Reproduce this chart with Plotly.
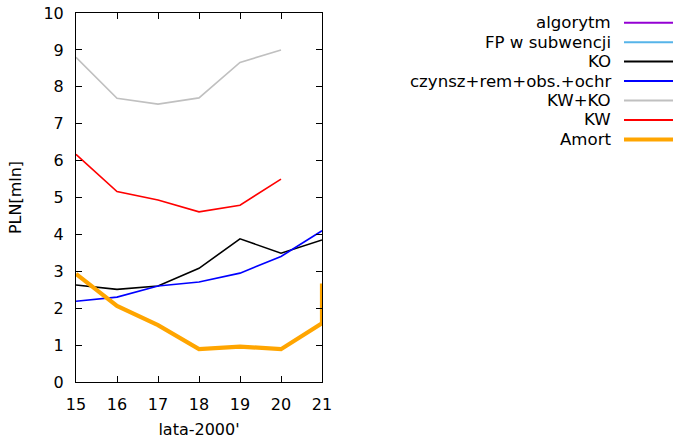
import plotly.graph_objects as go

years = [15, 16, 17, 18, 19, 20, 21]
kwko = [8.80, 7.69, 7.53, 7.70, 8.66, 9.00]
kw = [6.17, 5.16, 4.93, 4.61, 4.79, 5.50]
ko = [2.63, 2.51, 2.60, 3.08, 3.88, 3.49, 3.85]
czynsz = [2.19, 2.30, 2.60, 2.71, 2.95, 3.40, 4.10]
amort_x = [15, 16, 17, 18, 19, 20, 21, 21]
amort = [2.93, 2.06, 1.54, 0.89, 0.96, 0.89, 1.59, 2.67]
algorytm = []
fp_subw = []

legend_names = ["algorytm", "FP w subwencji", "KO", "czynsz+rem+obs.+ochr", "KW+KO", "KW", "Amort"]
legend_colors = ["#9400d3", "#56b4e9", "#000000", "#0000ff", "#c0c0c0", "#ff0000", "#ffa500"]
legend_widths = [2, 2, 2, 2, 2, 2, 4]

FONT = "DejaVu Sans"
FS = 16
fig = go.Figure()
series = [
    (years[:0], algorytm, 0),
    (years[:0], fp_subw, 1),
    (years, ko, 2),
    (years, czynsz, 3),
    (years[:6], kwko, 4),
    (years[:6], kw, 5),
    (amort_x, amort, 6),
]
for xs, ys, i in series:
    fig.add_trace(go.Scatter(x=xs, y=ys, mode="lines", name=legend_names[i],
                             line=dict(color=legend_colors[i], width=1.6 if legend_widths[i] == 2 else 4.2),
                             showlegend=False, cliponaxis=True))

L, R, T, B = 76, 351, 13, 57
W, H = 673, 439
pw = W - L - R
ph = H - T - B
row0 = 22.7
dy = 19.45
for i, name in enumerate(legend_names):
    ypix = row0 + i * dy
    yp = 1 - (ypix - T) / ph
    xt = (613 - L) / pw
    fig.add_annotation(x=xt, y=yp, xref="paper", yref="paper", text=name, showarrow=False,
                       xanchor="right", yanchor="middle", font=dict(family=FONT, size=16.6, color="black"))
    fig.add_shape(type="line", xref="paper", yref="paper",
                  x0=(624 - L) / pw, x1=(673 - L) / pw, y0=yp, y1=yp,
                  line=dict(color=legend_colors[i], width=legend_widths[i]))

fig.update_layout(
    width=W, height=H, margin=dict(l=L, r=R, t=T, b=B, autoexpand=False),
    plot_bgcolor="white", paper_bgcolor="white",
    font=dict(family=FONT, size=FS, color="black"),
    showlegend=False,
)
fig.update_xaxes(range=[15, 21], tickvals=years, ticks="inside", ticklen=6, tickcolor="black",
                 showline=True, linecolor="black", linewidth=1, mirror="ticks", showgrid=False,
                 zeroline=False, automargin=False, ticklabelstandoff=8,
                 title=dict(text="lata-2000'", standoff=14, font=dict(size=FS)))
fig.update_yaxes(range=[0, 10], tickvals=list(range(0, 11)), ticks="inside", ticklen=6, tickcolor="black",
                 showline=True, linecolor="black", linewidth=1, mirror="ticks", showgrid=False,
                 zeroline=False, automargin=False, ticklabelstandoff=8,
                 title=dict(text="PLN[mln]", standoff=17, font=dict(size=FS)))

fig.write_html("out.html", config={"displayModeBar": False},
               post_script="document.body.style.margin='0';document.body.style.overflow='hidden';")
